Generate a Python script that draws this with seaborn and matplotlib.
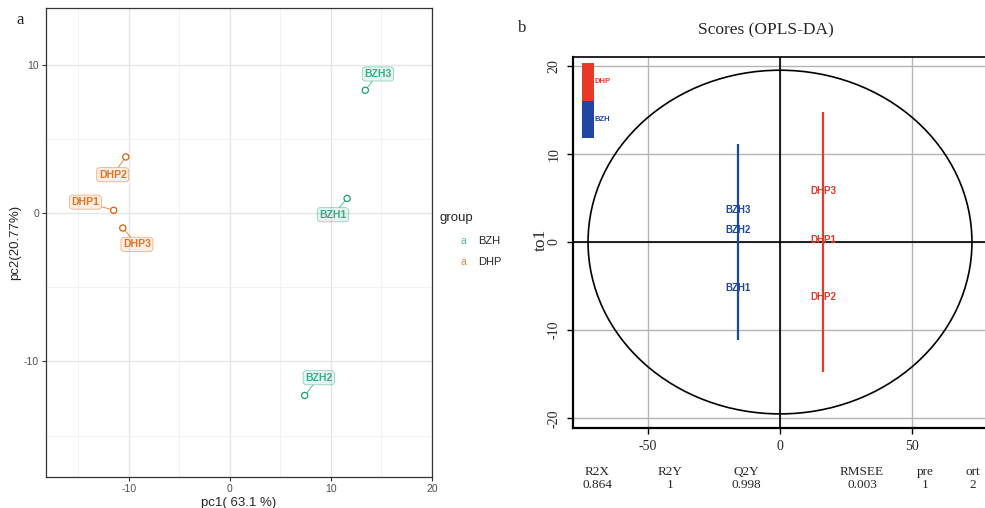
import matplotlib
matplotlib.use("Agg")
import matplotlib.pyplot as plt
import seaborn as sns
import pandas as pd
from matplotlib.patches import Ellipse, Rectangle

# ---- PCA scores (panel a) ----
pca_samples = ["DHP1", "DHP2", "DHP3", "BZH1", "BZH2", "BZH3"]
pca_group = ["DHP", "DHP", "DHP", "BZH", "BZH", "BZH"]
pca_pc1 = [-11.5, -10.3, -10.6, 11.6, 7.4, 13.4]
pca_pc2 = [0.2, 3.8, -1.0, 1.0, -12.3, 8.3]

# ---- OPLS-DA scores (panel b) ----
opls_samples = ["DHP1", "DHP2", "DHP3", "BZH1", "BZH2", "BZH3"]
opls_group = ["DHP", "DHP", "DHP", "BZH", "BZH", "BZH"]
opls_t1 = [16.3, 16.3, 16.3, -15.9, -15.9, -15.9]
opls_to1 = [0.2, -6.2, 5.8, -5.2, 1.4, 3.6]
# group ellipse extents along to1 (collapsed to vertical segments)
grp_names = ["DHP", "BZH"]
grp_t1 = [16.3, -15.9]
grp_to1_low = [-14.8, -11.1]
grp_to1_high = [14.8, 11.1]
# Hotelling T2 ellipse semi-axes
t2_axis_t1 = 72.7
t2_axis_to1 = 19.5

stat_names = ["R2X", "R2Y", "Q2Y", "RMSEE", "pre", "ort"]
stat_values = ["0.864", "1", "0.998", "0.003", "1", "2"]

sns.set_theme(style="white")
plt.rcParams["font.family"] = ["Liberation Sans", "DejaVu Sans"]
plt.rcParams["axes.unicode_minus"] = False
SERIF = ["Liberation Serif", "DejaVu Serif"]

W, H = 985, 508
fig = plt.figure(figsize=(W / 100, H / 100), dpi=100)


def fx(px):
    return px / W


def fy(py):
    return 1 - py / H


# ================= panel a =================
pca_pal = {"BZH": "#1b9e77", "DHP": "#d95f02"}
df_pca = pd.DataFrame({"sample": pca_samples, "group": pca_group,
                       "pc1": pca_pc1, "pc2": pca_pc2})

axa = fig.add_axes([fx(46), fy(477), fx(432) - fx(46), fy(8) - fy(477)])
sns.scatterplot(data=df_pca, x="pc1", y="pc2", hue="group", palette=pca_pal,
                s=20, linewidth=0.9, legend=False, ax=axa, zorder=3)
pts = axa.collections[0]
pts.set_edgecolors(pts.get_facecolors())
pts.set_facecolors("none")

axa.set_xlim(-18.2, 20)
axa.set_ylim(-17.8, 13.85)
axa.set_xticks([-10, 0, 10, 20])
axa.set_yticks([-10, 0, 10])
axa.set_xticks([-15, -5, 5, 15], minor=True)
axa.set_yticks([-15, -5, 5], minor=True)
axa.grid(which="major", color="#e6e6e6", lw=1.0, zorder=0)
axa.grid(which="minor", color="#f0f0f0", lw=0.6, zorder=0)
axa.set_axisbelow(True)
for sp in axa.spines.values():
    sp.set_color("#333333")
    sp.set_linewidth(0.9)
axa.tick_params(which="major", direction="out", length=3, width=0.8,
                color="#333333", labelcolor="#4d4d4d", labelsize=7.5,
                bottom=True, left=True, pad=2)
axa.tick_params(which="minor", length=0)
axa.set_xlabel("pc1( 63.1 %)", fontsize=9.5, labelpad=2)
axa.set_ylabel("pc2(20.77%)", fontsize=9.5, labelpad=2)

# repelled label placement
label_pos = {"DHP1": (-14.3, 0.75), "DHP2": (-11.6, 2.6), "DHP3": (-9.2, -2.1),
             "BZH1": (10.2, -0.1), "BZH2": (8.8, -11.1), "BZH3": (14.65, 9.4)}
for name, g, x, y in zip(pca_samples, pca_group, pca_pc1, pca_pc2):
    c = matplotlib.colors.to_rgb(pca_pal[g])
    axa.annotate(name, xy=(x, y), xytext=label_pos[name], ha="center", va="center",
                 fontsize=7.5, fontweight="bold", color=(*c, 0.85), zorder=4,
                 bbox=dict(boxstyle="round,pad=0.2,rounding_size=0.3",
                           fc=(*c, 0.1), ec=(*c, 0.45), lw=0.6),
                 arrowprops=dict(arrowstyle="-", color=(*c, 0.8), lw=0.6,
                                 shrinkA=0, shrinkB=2.5))

fig.text(fx(440), fy(218), "group", fontsize=9.5, va="center")
for i, g in enumerate(["BZH", "DHP"]):
    yy = fy(241 + 21 * i)
    fig.text(fx(463), yy, "a", color=pca_pal[g], alpha=0.75, fontsize=7.5,
             ha="center", va="center")
    fig.text(fx(478), yy, g, fontsize=8, va="center")

fig.text(fx(20), fy(20), "a", family=SERIF, fontsize=12, ha="center", va="center")

# ================= panel b =================
opls_pal = {"DHP": "#e8382a", "BZH": "#1f46a2"}
axb = fig.add_axes([fx(573), fy(428), fx(987) - fx(573), fy(57) - fy(428)])
axb.set_xlim(-78.4, 78.4)
axb.set_ylim(-21.1, 21.0)
axb.set_xticks([-50, 0, 50])
axb.set_yticks([-20, -10, 0, 10, 20])
axb.grid(True, color="#b4b4b4", lw=1.0, zorder=0)
axb.axvline(0, color="black", lw=1.2, zorder=1)
axb.axhline(0, color="black", lw=1.2, zorder=1)
axb.add_patch(Ellipse((0, 0), 2 * t2_axis_t1, 2 * t2_axis_to1, fill=False,
                      ec="black", lw=1.2, zorder=2))

df_opls = pd.DataFrame({"sample": opls_samples, "group": opls_group,
                        "t1": opls_t1, "to1": opls_to1})
for _, r in df_opls.iterrows():
    axb.text(r.t1, r.to1, r["sample"], color=opls_pal[r.group], fontsize=7,
             fontweight="bold", ha="center", va="center", zorder=3)
axb.vlines(grp_t1, grp_to1_low, grp_to1_high,
           colors=[opls_pal[g] for g in grp_names], lw=1.6, zorder=4)

# colour key bar
key_top, key_mid, key_bot = 20.3, 16.0, 11.8
axb.add_patch(Rectangle((-75.0, key_mid), 4.5, key_top - key_mid,
                        fc=opls_pal["DHP"], ec="none", zorder=5))
axb.add_patch(Rectangle((-75.0, key_bot), 4.5, key_mid - key_bot,
                        fc=opls_pal["BZH"], ec="none", zorder=5))
axb.text(-70.2, 18.2, "DHP", color=opls_pal["DHP"], fontsize=5.5,
         fontweight="bold", va="center", zorder=5)
axb.text(-70.2, 13.9, "BZH", color=opls_pal["BZH"], fontsize=5.5,
         fontweight="bold", va="center", zorder=5)

for side in ["left", "bottom"]:
    axb.spines[side].set_color("black")
    axb.spines[side].set_linewidth(1.6)
for side in ["top", "right"]:
    axb.spines[side].set_color("black")
    axb.spines[side].set_linewidth(1.2)
axb.tick_params(direction="out", length=4, width=1, color="black",
                labelsize=10, bottom=True, left=True, pad=5)
for lab in axb.get_xticklabels() + axb.get_yticklabels():
    lab.set_family(SERIF)
for lab in axb.get_yticklabels():
    lab.set_rotation(90)
    lab.set_va("center")

fig.text(fx(766), fy(30), "Scores (OPLS-DA)", family=SERIF, fontsize=12.5,
         ha="center", va="center")
fig.text(fx(522), fy(28), "b", family=SERIF, fontsize=12, ha="center", va="center")
fig.text(fx(541), fy(240), "to1", family=SERIF, fontsize=12.5, rotation=90,
         ha="center", va="center")

stat_x = [597, 670, 746, 862, 925, 973]
for px, n, v in zip(stat_x, stat_names, stat_values):
    fig.text(fx(px), fy(472), n, family=SERIF, fontsize=9.5, ha="center", va="center")
    fig.text(fx(px), fy(485), v, family=SERIF, fontsize=9.5, ha="center", va="center")

fig.savefig("out.png", dpi=100)
